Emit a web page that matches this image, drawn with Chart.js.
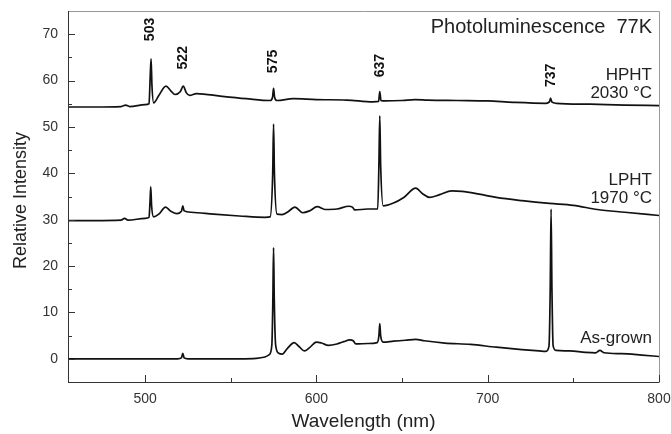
<!DOCTYPE html>
<html>
<head>
<meta charset="utf-8">
<script src="https://cdn.jsdelivr.net/npm/chart.js@4.4.1/dist/chart.umd.min.js"></script>
<style>
  html, body { margin: 0; padding: 0; background: #fff; }
  canvas { display: block; }
</style>
</head>
<body>
<canvas id="plChart" width="671" height="434"></canvas>
<script>
// Photoluminescence spectra at 77K, three samples (offset vertically)
const asGrownNm = [455, 470, 490, 505, 519, 521.2, 522, 522.8, 525, 540, 555, 565, 570, 572.5, 574, 574.6, 575, 575.4, 576.2, 578, 580, 583, 587, 590, 593, 596, 600, 603, 607, 612, 616, 619.5, 621.5, 623, 630, 635.5, 636.5, 637, 637.5, 639, 645, 652, 658, 663, 675, 690, 705, 720, 730, 734, 735.8, 736.5, 737, 737.5, 738.2, 740, 748, 757, 763, 765.5, 768, 778, 790, 800];
const asGrownI = [0, 0, 0, 0, 0, 0.2, 1.2, 0.2, 0, 0, 0, 0.1, 0.4, 0.9, 3, 13, 24, 13, 3, 1.2, 1.0, 2.2, 3.5, 2.6, 1.7, 2.4, 3.6, 3.4, 2.9, 3.2, 3.7, 4.1, 3.9, 3.2, 3.3, 3.5, 5, 7.6, 5, 3.6, 3.8, 4.0, 4.2, 3.9, 3.4, 3.1, 2.5, 2.0, 1.7, 1.6, 2.8, 15, 32.3, 15, 2.8, 1.8, 1.7, 1.4, 1.3, 1.8, 1.3, 1.1, 0.8, 0.5];

const lphtNm = [455, 470, 486, 488, 490, 500, 502.3, 502.9, 503.3, 503.8, 505, 508, 512, 515, 518.5, 521.2, 522, 522.8, 527, 540, 555, 570, 573, 574.5, 575, 575.5, 577, 580, 583, 587.5, 592, 596, 600.5, 605, 612, 619, 621, 622.5, 630, 635.8, 636.5, 637, 637.5, 639, 645, 651, 658, 662, 666, 672, 679, 685, 695, 705, 720, 736, 750, 764, 780, 800];
const lphtI = [29.8, 29.8, 29.9, 30.3, 29.9, 30.3, 30.5, 34, 37.1, 33, 30.6, 31.2, 32.7, 31.8, 31.3, 31.8, 33, 31.9, 31.6, 31.2, 30.8, 30.5, 30.6, 40, 50.6, 40, 31.2, 31.1, 31.6, 32.7, 31.5, 31.9, 32.8, 32.2, 32.3, 32.9, 32.7, 32.1, 32.3, 32.3, 42, 52.4, 42, 33.0, 33.6, 34.8, 36.8, 35.6, 34.8, 35.4, 36.2, 36.1, 35.5, 34.8, 34.1, 33.5, 33.1, 32.2, 31.6, 30.9];

const hphtNm = [455, 470, 486, 488.7, 491, 500, 502.3, 503, 503.5, 504, 505, 508, 512.2, 515, 517.5, 520.5, 522.3, 524, 526, 530, 545, 559, 573, 574.4, 575, 575.6, 577, 586.5, 600, 617.7, 633, 636.3, 637, 637.7, 640, 650, 657.6, 665, 682, 700, 715, 734, 736, 736.7, 737.4, 740, 760, 780, 800];
const hphtI = [54.3, 54.3, 54.4, 54.7, 54.4, 54.8, 55.0, 61, 64.7, 59, 55.2, 56.8, 58.8, 57.8, 57.0, 57.6, 58.8, 57.4, 56.8, 57.2, 56.6, 56.1, 55.7, 56.4, 58.3, 56.4, 55.7, 56.1, 55.9, 55.8, 55.4, 55.5, 57.6, 55.7, 55.6, 55.7, 55.9, 55.8, 55.7, 55.6, 55.3, 55.1, 55.4, 56.2, 55.4, 55.1, 54.9, 54.7, 54.6];

const xTicks = [500, 600, 700, 800];
const xMinorTicks = [550, 650, 750];
const yTicks = [0, 10, 20, 30, 40, 50, 60, 70];
const yMinorTicks = [-5, 5, 15, 25, 35, 45, 55, 65];

const peakLabels = ['503', '522', '575', '637', '737'];
const peakLabelBase = [68.5, 62.4, 61.6, 60.7, 58.6];   // y value where each rotated label starts
const sampleLabels = [['HPHT', '2030 °C'], ['LPHT', '1970 °C'], ['As-grown']];
const sampleLabelBase = [80, 185, 343];                 // baseline (px) of first line

const FONT = '"Liberation Sans", Arial, Helvetica, sans-serif';

function toPoints(xs, ys) {
  return xs.map((x, i) => ({ x: x, y: ys[i] }));
}

function lineSet(label, xs, ys) {
  return {
    label: label,
    data: toPoints(xs, ys),
    showLine: true,
    borderColor: '#111',
    borderWidth: 1.7,
    pointRadius: 0,
    cubicInterpolationMode: 'monotone',
    fill: false
  };
}

const decorations = {
  id: 'decorations',
  afterDraw(chart) {
    const ctx = chart.ctx;
    const a = chart.chartArea;
    const xs = chart.scales.x;
    const ys = chart.scales.y;
    ctx.save();

    // frame
    ctx.lineWidth = 1;
    ctx.strokeStyle = '#999';
    ctx.beginPath();
    ctx.moveTo(a.left, a.top + 0.5);
    ctx.lineTo(a.right + 0.5, a.top + 0.5);
    ctx.lineTo(a.right + 0.5, a.bottom);
    ctx.stroke();
    ctx.strokeStyle = '#333';
    ctx.beginPath();
    ctx.moveTo(a.left + 0.5, a.top);
    ctx.lineTo(a.left + 0.5, a.bottom + 0.5);
    ctx.lineTo(a.right + 0.5, a.bottom + 0.5);
    ctx.stroke();

    // inward ticks
    ctx.beginPath();
    xTicks.forEach(v => { const p = Math.round(xs.getPixelForValue(v)) + 0.5; ctx.moveTo(p, a.bottom); ctx.lineTo(p, a.bottom - 7); });
    xMinorTicks.forEach(v => { const p = Math.round(xs.getPixelForValue(v)) + 0.5; ctx.moveTo(p, a.bottom); ctx.lineTo(p, a.bottom - 4); });
    yTicks.forEach(v => { const p = Math.round(ys.getPixelForValue(v)) + 0.5; ctx.moveTo(a.left, p); ctx.lineTo(a.left + 7, p); });
    yMinorTicks.forEach(v => { const p = Math.round(ys.getPixelForValue(v)) + 0.5; ctx.moveTo(a.left, p); ctx.lineTo(a.left + 4, p); });
    ctx.stroke();

    // y axis title
    ctx.fillStyle = '#222';
    ctx.font = '18px ' + FONT;
    ctx.translate(21, (a.top + a.bottom) / 2 + 4);
    ctx.rotate(-Math.PI / 2);
    ctx.textAlign = 'center';
    ctx.textBaseline = 'middle';
    ctx.fillText('Relative Intensity', 0, 0);
    ctx.setTransform(1, 0, 0, 1, 0, 0);

    // peak labels, rotated
    ctx.font = 'bold 14px ' + FONT;
    ctx.fillStyle = '#111';
    peakLabels.forEach((t, i) => {
      ctx.save();
      ctx.translate(xs.getPixelForValue(Number(t)), ys.getPixelForValue(peakLabelBase[i]));
      ctx.rotate(-Math.PI / 2);
      ctx.textAlign = 'left';
      ctx.textBaseline = 'middle';
      ctx.fillText(t, 0, 0);
      ctx.restore();
    });

    // header and sample labels
    ctx.textAlign = 'right';
    ctx.textBaseline = 'alphabetic';
    ctx.fillStyle = '#222';
    ctx.font = '20px ' + FONT;
    ctx.fillText('Photoluminescence  77K', a.right - 7, 33);
    ctx.font = '17px ' + FONT;
    sampleLabels.forEach((lines, i) => {
      lines.forEach((t, j) => ctx.fillText(t, a.right - 7, sampleLabelBase[i] + j * 18));
    });

    ctx.restore();
  }
};

new Chart(document.getElementById('plChart'), {
  type: 'scatter',
  data: {
    datasets: [
      lineSet('HPHT 2030 °C', hphtNm, hphtI),
      lineSet('LPHT 1970 °C', lphtNm, lphtI),
      lineSet('As-grown', asGrownNm, asGrownI)
    ]
  },
  options: {
    responsive: false,
    animation: false,
    layout: { padding: { left: 0, top: 11, right: 12, bottom: 0 } },
    plugins: {
      legend: { display: false },
      tooltip: { enabled: false }
    },
    scales: {
      x: {
        type: 'linear',
        min: 455,
        max: 800,
        afterBuildTicks: s => { s.ticks = xTicks.map(v => ({ value: v })); },
        afterFit: s => { s.height = 52; s.paddingLeft = 0; s.paddingRight = 0; },
        grid: { display: false, drawTicks: false },
        border: { display: false },
        ticks: { color: '#333', font: { family: FONT, size: 14 }, padding: 9 },
        title: {
          display: true,
          text: 'Wavelength (nm)',
          color: '#222',
          font: { family: FONT, size: 19 },
          padding: { top: 0, bottom: 1 }
        }
      },
      y: {
        min: -5,
        max: 75,
        afterBuildTicks: s => { s.ticks = yTicks.map(v => ({ value: v })); },
        afterFit: s => { s.width = 68; s.paddingTop = 0; s.paddingBottom = 0; },
        grid: { display: false, drawTicks: false },
        border: { display: false },
        ticks: { color: '#333', font: { family: FONT, size: 14 }, padding: 10 }
      }
    }
  },
  plugins: [decorations]
});
</script>
</body>
</html>
